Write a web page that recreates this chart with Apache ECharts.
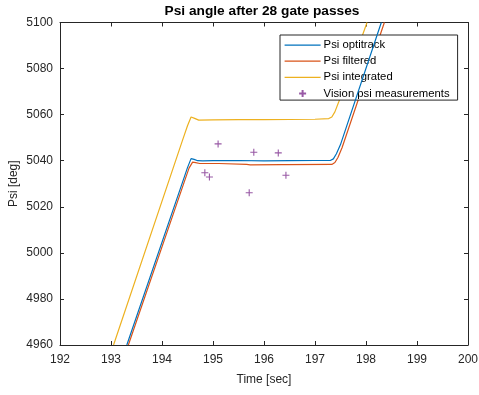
<!DOCTYPE html>
<html>
<head>
<meta charset="utf-8">
<script src="https://cdn.jsdelivr.net/npm/echarts@6/dist/echarts.min.js"></script>
<style>
html,body{margin:0;padding:0;background:#fff;}
#chart{width:479px;height:395px;}
</style>
</head>
<body>
<div id="chart"></div>
<script>
// ---- data ----
var xTicks = [192, 193, 194, 195, 196, 197, 198, 199, 200];
var yTicks = [4960, 4980, 5000, 5020, 5040, 5060, 5080, 5100];

var optiT   = [193.31, 194.40, 194.50, 194.57, 194.63, 194.70, 194.80, 195.00, 195.50, 196.00, 196.50, 197.00, 197.30, 197.36, 197.42, 197.50, 198.30];
var optiPsi = [4960.0, 5030.5, 5037.0, 5040.9, 5040.6, 5040.0, 5039.9, 5040.0, 5040.1, 5039.9, 5040.0, 5040.1, 5040.1, 5040.8, 5043.0, 5047.0, 5100.0];

var filtT   = [193.34, 194.43, 194.53, 194.60, 194.66, 194.74, 195.12, 195.15, 195.66, 195.69, 195.73, 196.35, 196.38, 196.42, 197.33, 197.39, 197.45, 197.53, 198.36];
var filtPsi = [4960.0, 5030.4, 5036.8, 5039.4, 5039.2, 5038.8, 5038.8, 5038.4, 5038.4, 5039.0, 5038.2, 5038.3, 5038.9, 5038.3, 5038.4, 5039.2, 5041.4, 5045.6, 5100.0];

var integT   = [193.05, 194.40, 194.50, 194.57, 194.64, 194.72, 195.00, 195.50, 196.00, 196.50, 197.00, 197.27, 197.33, 197.39, 197.47, 198.02];
var integPsi = [4960.0, 5048.7, 5055.2, 5059.0, 5058.4, 5057.6, 5057.7, 5057.8, 5057.8, 5057.9, 5058.0, 5058.3, 5059.0, 5061.2, 5065.8, 5100.0];

var visT   = [194.84, 194.93, 195.10, 195.71, 195.80, 196.28, 196.43];
var visPsi = [5034.8, 5032.9, 5047.3, 5026.1, 5043.7, 5043.4, 5033.7];

var seriesNames = ['Psi optitrack', 'Psi filtered', 'Psi integrated', 'Vision psi measurements'];
var titleText = 'Psi angle after 28 gate passes';
var xName = 'Time [sec]';
var yName = 'Psi [deg]';

// ---- build ----
function pairs(a, b) { return a.map(function (v, i) { return [v, b[i]]; }); }
var FONT = "'Liberation Sans', Arial, Helvetica, sans-serif";
var AX = '#262626';
var C = ['#0072BD', '#D95319', '#EDB120', '#7E2F8E'];
var plus = 'path://M5,0 L5,10 M0,5 L10,5';

var chart = echarts.init(document.getElementById('chart'), null, {renderer: 'canvas'});

function xAx(pos, labels) {
  return {
    type: 'value', position: pos, min: xTicks[0], max: xTicks[xTicks.length - 1], interval: 1,
    axisLine: {show: true, onZero: false, lineStyle: {color: AX, width: 1}},
    axisTick: {show: true, inside: true, length: 4, lineStyle: {color: AX}},
    splitLine: {show: false},
    axisLabel: {show: labels, color: AX, fontSize: 12, fontFamily: FONT, margin: 9,
                formatter: function (v) { return String(v); }},
    name: labels ? xName : '', nameLocation: 'middle', nameGap: 29, nameMoveOverlap: false,
    nameTextStyle: {color: AX, fontSize: 12, fontFamily: FONT}
  };
}
function yAx(pos, labels) {
  return {
    type: 'value', position: pos, min: yTicks[0], max: yTicks[yTicks.length - 1], interval: 20,
    axisLine: {show: true, onZero: false, lineStyle: {color: AX, width: 1}},
    axisTick: {show: true, inside: true, length: 4, lineStyle: {color: AX}},
    splitLine: {show: false},
    axisLabel: {show: labels, color: AX, fontSize: 12, fontFamily: FONT, margin: 7,
                formatter: function (v) { return String(v); }},
    name: labels ? yName : '', nameLocation: 'middle', nameGap: 40, nameRotate: 90, nameMoveOverlap: false,
    nameTextStyle: {color: AX, fontSize: 12, fontFamily: FONT}
  };
}

function lineLegendItem(name) {
  return {name: name, itemStyle: {opacity: 0}, lineStyle: {width: 1.2}};
}

var option = {
  backgroundColor: '#fff',
  animation: false,
  grid: {left: 60, right: 11, top: 22.5, bottom: 50, containLabel: false, outerBoundsMode: 'none'},
  xAxis: [xAx('bottom', true), xAx('top', false)],
  yAxis: [yAx('left', true), yAx('right', false)],
  graphic: [{
    type: 'text', x: 262, y: 11.5,
    style: {text: titleText, textAlign: 'center', textVerticalAlign: 'middle',
            font: 'bold 13.7px ' + FONT, fill: '#000'}
  }],
  legend: {
    orient: 'vertical', left: 280, top: 35,
    padding: [4.6, 8, 1.2, 4], itemGap: 5.1, itemWidth: 36, itemHeight: 7,
    backgroundColor: '#fff', borderColor: AX, borderWidth: 1, borderRadius: 0,
    textStyle: {color: '#000', fontSize: 11.3, fontFamily: FONT, padding: [0, 0, 0, -2]},
    data: [
      lineLegendItem(seriesNames[0]),
      lineLegendItem(seriesNames[1]),
      lineLegendItem(seriesNames[2]),
      {name: seriesNames[3]}
    ]
  },
  series: [
    {name: seriesNames[0], type: 'line', data: pairs(optiT, optiPsi), symbol: 'none',
     lineStyle: {color: C[0], width: 1.2}, itemStyle: {color: C[0]}, z: 4},
    {name: seriesNames[1], type: 'line', data: pairs(filtT, filtPsi), symbol: 'none',
     lineStyle: {color: C[1], width: 1.2}, itemStyle: {color: C[1]}, z: 3},
    {name: seriesNames[2], type: 'line', data: pairs(integT, integPsi), symbol: 'none',
     lineStyle: {color: C[2], width: 1.2}, itemStyle: {color: C[2]}, z: 3},
    {name: seriesNames[3], type: 'scatter', data: pairs(visT, visPsi), symbol: plus, symbolSize: 7,
     itemStyle: {color: 'rgba(0,0,0,0)', borderColor: C[3], borderWidth: 1.1}, z: 5}
  ]
};
chart.setOption(option);
</script>
</body>
</html>
